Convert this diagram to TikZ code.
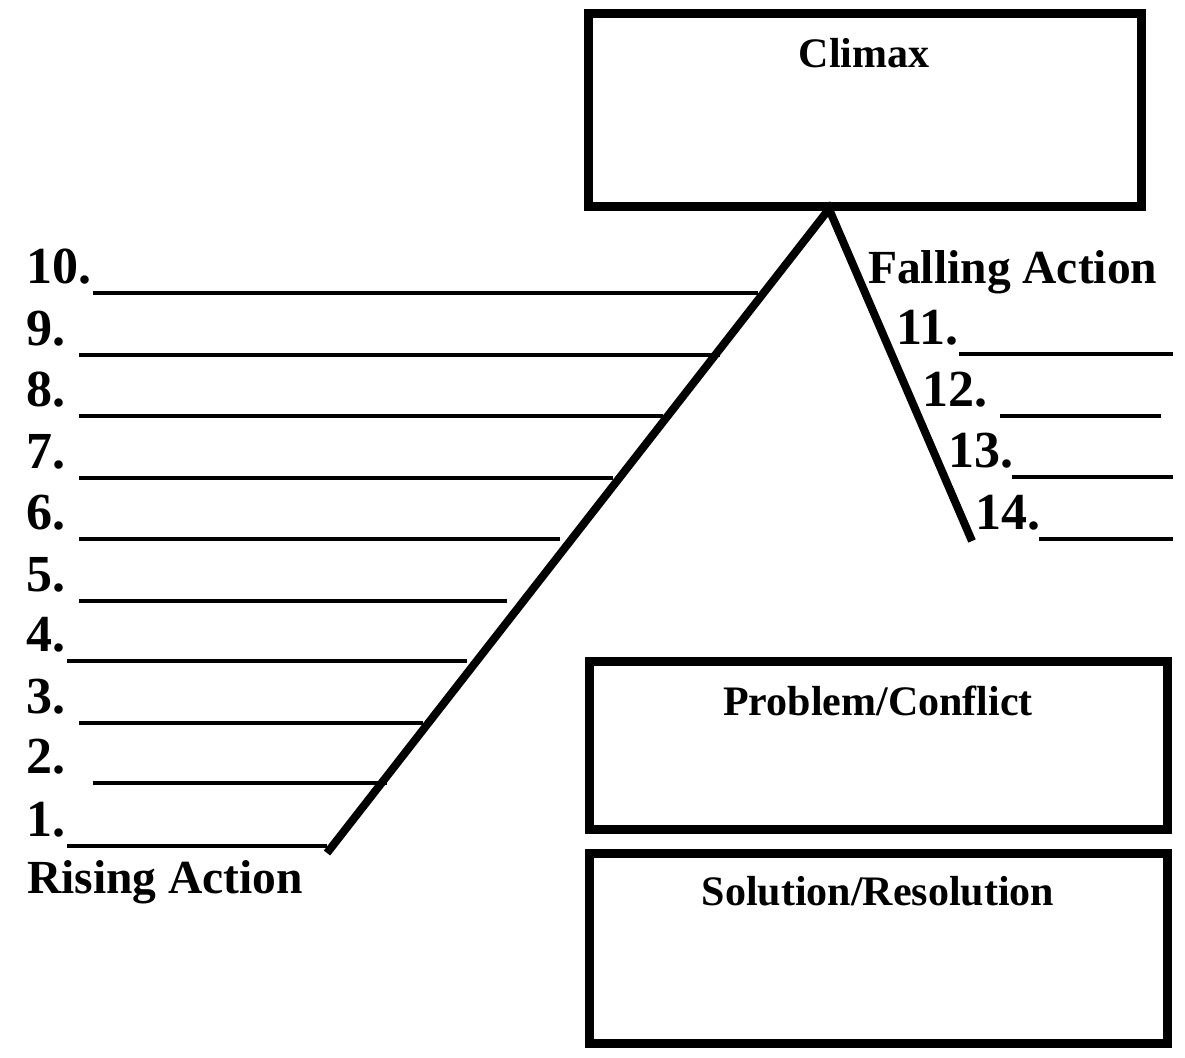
\documentclass[tikz,border=0pt]{standalone}
\usepackage{fontspec}
\setmainfont{Liberation Serif}
\begin{document}
\begin{tikzpicture}[x=1pt,y=-1pt,
  bigtxt/.style={inner sep=0pt, anchor=base west, font=\fontsize{47.5}{50}\selectfont\bfseries},
  numtxt/.style={inner sep=0pt, anchor=base west, font=\fontsize{52}{54}\selectfont\bfseries},
  boxtxt/.style={inner sep=0pt, anchor=base, font=\fontsize{42}{46}\selectfont\bfseries},
  framebox/.style={draw, line width=9pt, inner sep=0pt, rectangle},
  blank/.style={line width=4pt},
  arc/.style={line width=8pt}]
\useasboundingbox[fill=white] (0,0) rectangle (1185,1057);
% boxes
\node[framebox, minimum width=552.5pt, minimum height=192pt] (climax) at (864.75,110) {};
\node[framebox, minimum width=578pt, minimum height=167.5pt] (problem) at (878.5,745.25) {};
\node[framebox, minimum width=578pt, minimum height=190.5pt] (solution) at (878.5,948.25) {};
\node[boxtxt] (tclimax) at (864,67) {Climax};
\node[boxtxt] (tproblem) at (878,715) {Problem/Conflict};
\node[boxtxt] (tsolution) at (878,905) {Solution/Resolution};
% plot line
\coordinate (apex) at (829,209);
\coordinate (rstart) at (327,853);
\coordinate (fend) at (972,541);
\draw[arc] (rstart) -- (apex) -- (fend);
% rising action labels and blanks
\foreach \n/\ly/\xs/\xe in {10/293/93/758, 9/355/79/720, 8/416/79/663, 7/478/79/613, 6/539/79/560, 5/601/79/507, 4/661/67/467, 3/723/79/423, 2/783/93/387, 1/846/67/327}{
  \node[numtxt] (r\n) at (26,\ly-10) {\n.};
  \coordinate (rs\n) at (\xs,\ly);
  \coordinate (re\n) at (\xe,\ly);
  \draw[blank] (rs\n) -- (re\n);
}
\node[bigtxt] (rising) at (27,893) {Rising Action};
% falling action
\node[bigtxt] (falling) at (868,283) {Falling Action};
\foreach \n/\lx/\ly/\xs/\xe in {11/896/354/959/1173, 12/922/416/1000/1161, 13/948/477/1012/1173, 14/975/539/1039/1173}{
  \node[numtxt] (f\n) at (\lx,\ly-10) {\n.};
  \coordinate (fs\n) at (\xs,\ly);
  \coordinate (fe\n) at (\xe,\ly);
  \draw[blank] (fs\n) -- (fe\n);
}
\end{tikzpicture}
\end{document}
